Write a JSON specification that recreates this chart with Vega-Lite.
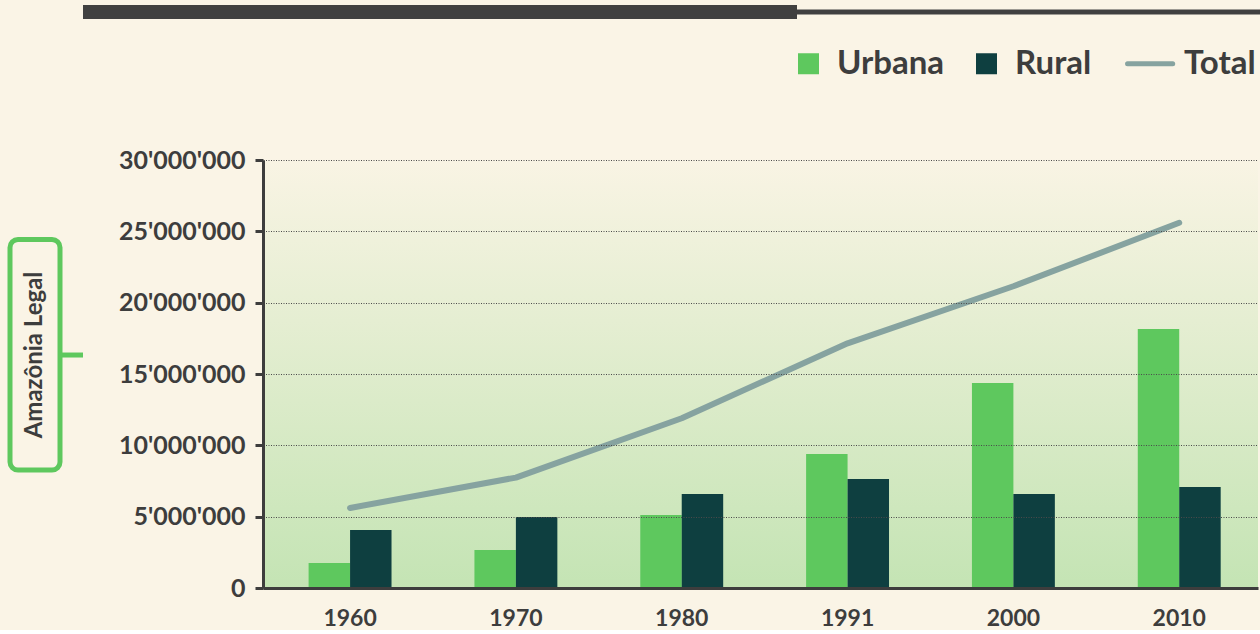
{
  "$schema": "https://vega.github.io/schema/vega-lite/v6.json",
  "background": "#faf4e6",
  "padding": {"left": 7, "top": 5, "right": 0, "bottom": 0},
  "config": {
    "view": {"stroke": null},
    "font": "Lato",
    "locale": {"number": {"decimal": ".", "thousands": "'", "grouping": [3], "currency": ["", ""]}}
  },
  "datasets": {
    "pop": [
      {"year": "1960", "serie": "Urbana", "value": 1750000},
      {"year": "1960", "serie": "Rural", "value": 4070000},
      {"year": "1960", "serie": "Total", "value": 5610000},
      {"year": "1970", "serie": "Urbana", "value": 2660000},
      {"year": "1970", "serie": "Rural", "value": 4980000},
      {"year": "1970", "serie": "Total", "value": 7740000},
      {"year": "1980", "serie": "Urbana", "value": 5120000},
      {"year": "1980", "serie": "Rural", "value": 6590000},
      {"year": "1980", "serie": "Total", "value": 11900000},
      {"year": "1991", "serie": "Urbana", "value": 9390000},
      {"year": "1991", "serie": "Rural", "value": 7640000},
      {"year": "1991", "serie": "Total", "value": 17150000},
      {"year": "2000", "serie": "Urbana", "value": 14370000},
      {"year": "2000", "serie": "Rural", "value": 6590000},
      {"year": "2000", "serie": "Total", "value": 21150000},
      {"year": "2010", "serie": "Urbana", "value": 18150000},
      {"year": "2010", "serie": "Rural", "value": 7080000},
      {"year": "2010", "serie": "Total", "value": 25600000}
    ]
  },
  "vconcat": [
    {
      "hconcat": [
        {"width": 73, "height": 14, "data": {"values": [{}]}, "mark": {"type": "rect", "opacity": 0}, "encoding": {}},
        {"width": 714, "height": 14, "data": {"values": [{}]}, "mark": {"type": "rect", "color": "#404040"}, "encoding": {}},
        {"width": 463, "height": 5, "data": {"values": [{}]}, "mark": {"type": "rect", "color": "#404040"}, "encoding": {}}
      ],
      "spacing": 0,
      "center": true,
      "bounds": "flush"
    },
    {
      "hconcat": [
        {
          "hconcat": [
            {
              "width": 50,
              "height": 428,
              "data": {"values": [{}]},
              "layer": [
                {
                  "mark": {"type": "rect", "fill": "transparent", "stroke": "#5ec85e", "strokeWidth": 5, "cornerRadius": 8},
                  "encoding": {
                    "y": {"datum": 24430000, "type": "quantitative", "scale": {"domain": [0, 30000000], "nice": false}, "axis": null},
                    "y2": {"datum": 8270000}
                  }
                },
                {
                  "mark": {"type": "text", "text": "Amazônia Legal", "angle": 270, "font": "Lato", "fontSize": 24, "fontWeight": "bold", "color": "#3d3d3d", "align": "center", "baseline": "middle"},
                  "encoding": {
                    "y": {"datum": 16330000, "type": "quantitative"}
                  }
                }
              ]
            },
            {
              "width": 23,
              "height": 428,
              "data": {"values": [{}]},
              "mark": {"type": "rule", "color": "#5ec85e", "strokeWidth": 5},
              "encoding": {
                "y": {"datum": 16330000, "type": "quantitative", "scale": {"domain": [0, 30000000], "nice": false}, "axis": null}
              }
            }
          ],
          "spacing": 0,
          "bounds": "flush"
        },
        {
          "width": 995,
          "height": 428,
          "data": {"name": "pop"},
          "layer": [
            {
              "data": {"values": [{}]},
              "mark": {
                "type": "rect",
                "color": {
                  "gradient": "linear",
                  "x1": 0, "y1": 0, "x2": 0, "y2": 1,
                  "stops": [
                    {"offset": 0, "color": "#f9f4e4"},
                    {"offset": 1, "color": "#c4e4b4"}
                  ]
                }
              },
              "encoding": {}
            },
            {
              "transform": [{"filter": "datum.serie !== 'Total'"}],
              "mark": {"type": "bar"},
              "encoding": {
                "x": {
                  "field": "year", "type": "ordinal",
                  "scale": {"paddingInner": 0.5, "paddingOuter": 0.25, "align": 0.55},
                  "axis": {"title": null, "labelAngle": 0, "labelFont": "Lato", "labelFontSize": 23, "labelFontWeight": "bold", "labelColor": "#3d3d3d", "labelPadding": 19, "ticks": false, "domainColor": "#3d3d3d", "domainWidth": 3, "zindex": 1}
                },
                "xOffset": {"field": "serie", "type": "nominal", "sort": ["Urbana", "Rural"]},
                "y": {
                  "field": "value", "type": "quantitative",
                  "scale": {"domain": [0, 30000000], "nice": false},
                  "axis": {"values": [0, 5000000, 10000000, 15000000, 20000000, 25000000, 30000000], "format": ",d", "title": null, "labelFont": "Lato", "labelFontSize": 25, "labelFontWeight": "bold", "labelColor": "#3d3d3d", "labelPadding": 10, "tickSize": 8, "tickWidth": 3, "tickColor": "#3d3d3d", "domainColor": "#3d3d3d", "domainWidth": 3, "grid": true, "gridColor": "#4a4a4a", "gridDash": [1, 1.5], "gridWidth": 1, "zindex": 1}
                },
                "color": {
                  "field": "serie", "type": "nominal",
                  "scale": {"domain": ["Urbana", "Rural", "Total"], "range": ["#5ec85e", "#0e3f40", "#86a3a0"]},
                  "legend": {
                    "title": null, "orient": "none", "legendX": 782, "legendY": 42, "direction": "horizontal",
                    "labelFont": "Lato", "labelFontSize": 33, "labelFontWeight": "bold", "labelColor": "#3d3d3d",
                    "symbolSize": 441, "symbolType": "square", "labelOffset": 12, "columnPadding": 25,
                    "encode": {
                      "symbols": {"update": {
                        "shape": {"signal": "datum.value === 'Total' ? 'M-1.9,0H2.4' : 'square'"},
                        "stroke": {"signal": "datum.value === 'Total' ? '#86a3a0' : 'transparent'"},
                        "strokeWidth": {"signal": "datum.value === 'Total' ? 5 : 0"},
                        "strokeCap": {"value": "round"},
                        "fill": {"signal": "datum.value === 'Total' ? 'transparent' : (datum.value === 'Urbana' ? '#5ec85e' : '#0e3f40')"},
                        "opacity": {"value": 1}
                      }},
                      "labels": {"update": {"dx": {"signal": "datum.value === 'Total' ? 8 : 0"}}}
                    }
                  }
                }
              }
            },
            {
              "transform": [{"filter": "datum.serie === 'Total'"}],
              "mark": {"type": "line", "strokeWidth": 6, "strokeCap": "round", "strokeJoin": "round"},
              "encoding": {
                "x": {"field": "year", "type": "ordinal"},
                "y": {"field": "value", "type": "quantitative"},
                "color": {"field": "serie", "type": "nominal"}
              }
            }
          ]
        }
      ],
      "spacing": 253,
      "bounds": "flush"
    }
  ],
  "spacing": 155,
  "bounds": "flush"
}
